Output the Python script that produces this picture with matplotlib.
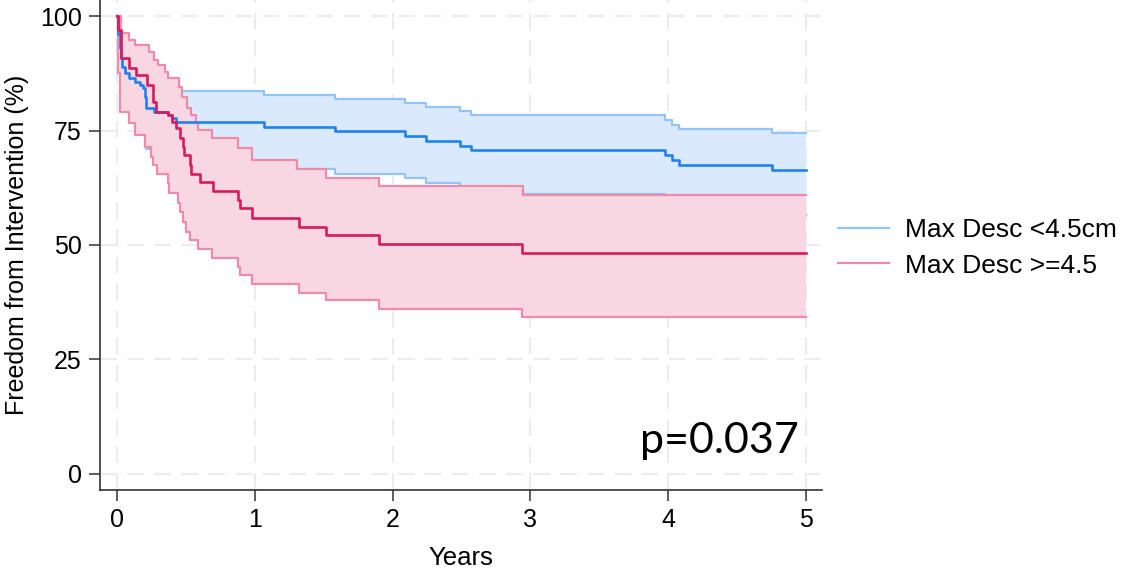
import matplotlib
matplotlib.use('Agg')
import matplotlib.pyplot as plt

# Kaplan-Meier style step data (years, % free from intervention)
blue_t = [0, 0.01, 0.02, 0.03, 0.04, 0.06, 0.09, 0.13, 0.17, 0.19, 0.20, 0.21, 0.27, 0.37, 0.40, 0.43,
          1.07, 1.58, 2.09, 2.24, 2.49, 2.57, 3.98, 4.03, 4.08, 4.75, 5.0]
blue_s = [100, 96, 93, 90.8, 88.9, 87.5, 86.5, 85.6, 85, 84.3, 82.3, 80, 79.1, 78.4, 77.7, 76.9,
          75.8, 74.9, 73.8, 72.8, 71.7, 70.7, 69.6, 68.5, 67.4, 66.3, 66.3]
blue_hi = [100, 99.5, 98, 96.5, 95.2, 94, 93.2, 92.3, 91.7, 91, 89.3, 87.2, 86.3, 85.6, 84.6, 83.7,
           82.7, 81.9, 81.1, 80.1, 79.2, 78.3, 77.3, 76.3, 75.4, 74.5, 74.5]
blue_lo = [100, 93, 87, 84, 81.5, 79.8, 78.8, 77.6, 76.8, 75.8, 73.6, 71, 70, 69.2, 68.4, 67.5,
           66.7, 65.6, 64.6, 63.5, 62.3, 61.2, 60, 58.9, 57.8, 56.6, 56.6]

red_t = [0, 0.01, 0.03, 0.09, 0.14, 0.22, 0.26, 0.28, 0.37, 0.40, 0.43, 0.46, 0.48, 0.49, 0.53, 0.54,
         0.60, 0.70, 0.88, 0.89, 0.98, 1.32, 1.52, 1.90, 2.94, 5.0]
red_s = [100, 97, 90.8, 88.6, 87.1, 84.9, 81.3, 79.1, 78.4, 76.9, 75.5, 73.3, 71.5, 69.7, 67.5, 65.6,
         63.8, 61.7, 59.8, 58, 55.8, 54, 52.2, 50.2, 48.3, 48.3]

red_hi_t = [0, 0.03, 0.09, 0.13, 0.23, 0.27, 0.30, 0.35, 0.37, 0.45, 0.47, 0.51, 0.54, 0.57, 0.59,
            0.69, 0.88, 0.98, 1.31, 1.52, 1.90, 2.95, 5.0]
red_hi = [100, 96.2, 94.8, 93.7, 92.2, 90.4, 89.3, 87.8, 86.4, 84.6, 82.4, 80, 78.4, 76.6, 75.1,
          73.3, 71.1, 68.6, 66.6, 64.6, 62.9, 60.9, 60.9]

red_lo_t = [0, 0.005, 0.02, 0.09, 0.13, 0.20, 0.25, 0.26, 0.29, 0.37, 0.38, 0.44, 0.46, 0.48, 0.50,
            0.53, 0.59, 0.69, 0.88, 0.89, 0.98, 1.32, 1.52, 1.90, 2.94, 5.0]
red_lo = [100, 87.5, 79.1, 76.6, 74, 71.5, 69.3, 67.5, 65.5, 63.5, 61.3, 59.1, 57.3, 55.1, 52.9,
          51.1, 49.1, 47.2, 45.3, 43.4, 41.5, 39.6, 37.9, 36, 34.2, 34.2]

labels = ['Max Desc <4.5cm', 'Max Desc >=4.5']
p_text = 'p=0.037'

plt.rcParams['font.family'] = ['Liberation Sans', 'DejaVu Sans']

fig = plt.figure(figsize=(11.22, 5.68), dpi=100)
ax = fig.add_axes([100/1122, 78/568, 722/1122, 490/568])

# combine time grids so that the pink band can be filled between two step curves
def step_at(ts, vs, t):
    v = vs[0]
    for ti, vi in zip(ts, vs):
        if ti <= t:
            v = vi
    return v

red_grid = sorted(set(red_hi_t) | set(red_lo_t))
red_hi_g = [step_at(red_hi_t, red_hi, t) for t in red_grid]
red_lo_g = [step_at(red_lo_t, red_lo, t) for t in red_grid]

# CI areas
ax.fill_between(blue_t, blue_lo, blue_hi, step='post', color='#dae9fb', lw=0, zorder=2)
ax.step(blue_t, blue_hi, where='post', color='#93c4f8', lw=1.6, zorder=2.1, label=labels[0])
ax.step(blue_t, blue_lo, where='post', color='#93c4f8', lw=1.6, zorder=2.1)

ax.fill_between(red_grid, red_lo_g, red_hi_g, step='post', color='#f8d7e2', lw=0, zorder=3)
ax.step(red_hi_t, red_hi, where='post', color='#ee8aaa', lw=1.6, zorder=3.1, label=labels[1])
ax.step(red_lo_t, red_lo, where='post', color='#ee8aaa', lw=1.6, zorder=3.1)

# survival estimates
ax.step(blue_t, blue_s, where='post', color='#1f82f2', lw=1.9, zorder=4)
ax.step(red_t, red_s, where='post', color='#d81b5a', lw=1.9, zorder=4)

ax.set_xlim(-0.123, 5.116)
ax.set_ylim(-3.5, 103.5)
ax.set_xticks(range(0, 6))
ax.set_yticks([0, 25, 50, 75, 100])
ax.grid(True, color='#ececec', lw=1.5, ls=(0, (8, 5)), zorder=0)
ax.set_axisbelow(True)

for s in ['top', 'right']:
    ax.spines[s].set_visible(False)
for s in ['left', 'bottom']:
    ax.spines[s].set_color('#333333')
    ax.spines[s].set_linewidth(1.2)
ax.tick_params(axis='both', direction='out', length=8, width=1.1, color='#333333',
               labelsize=18, pad=5)

ax.set_xlabel('Years', fontsize=18.5, labelpad=10)
ax.set_ylabel('Freedom from Intervention (%)', fontsize=18, labelpad=8)

ax.text(4.95, 3.0, p_text, fontsize=31, family=['Lato', 'DejaVu Sans'], ha='right', va='bottom',
        zorder=5)

fig.legend(loc='center left', bbox_to_anchor=(838/1122, 1 - 248/568), frameon=False,
           fontsize=19, handlelength=1.95, handletextpad=0.6, labelspacing=0.42,
           borderaxespad=0, borderpad=0)

fig.savefig('out.png', dpi=100)
